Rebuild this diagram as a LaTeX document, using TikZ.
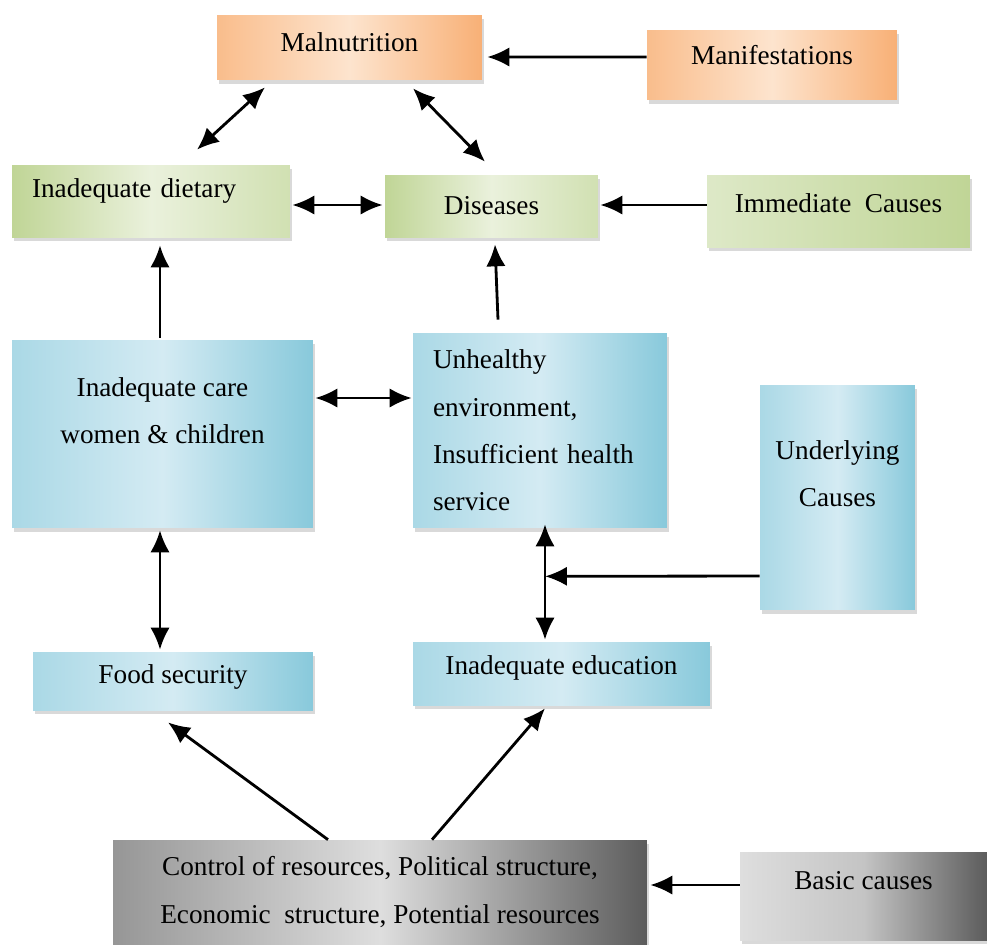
\documentclass[tikz,border=0pt]{standalone}
\usepackage{fontspec}
\setmainfont{Liberation Serif}
\usepackage{xcolor}
\usepackage{tikz}
\usetikzlibrary{arrows.meta, calc, shadows}

\definecolor{orangeD}{RGB}{248,176,118}
\definecolor{orangeL}{RGB}{253,228,206}
\definecolor{greenD}{RGB}{192,213,150}
\definecolor{greenL}{RGB}{234,241,220}
\definecolor{blueD}{RGB}{136,201,219}
\definecolor{blueL}{RGB}{212,235,243}
\definecolor{grayD}{RGB}{92,92,92}
\definecolor{grayM}{RGB}{150,150,150}
\definecolor{grayL}{RGB}{222,222,222}

\begin{document}
\begin{tikzpicture}[
    x=0.02cm, y=-0.02cm,
    every node/.style={font=\fontsize{15.5}{27}\selectfont, text=black},
    box/.style={rectangle, inner sep=0pt, align=center, drop shadow={shadow xshift=1pt, shadow yshift=-2.5pt, opacity=0.3}},
    orangebox/.style={box, left color=orangeD!75!orangeL, right color=orangeD, middle color=orangeL},
    greenbox/.style={box, left color=greenD, right color=greenD!60!greenL, middle color=greenL},
    bluebox/.style={box, left color=blueD!55!blueL, right color=blueD, middle color=blueL},
    graybox/.style={box, left color=grayM, right color=grayD, middle color=grayL},
    arrow/.style={-{Latex[length=12.5pt,width=11pt]}, line width=1.6pt, black},
    dblarrow/.style={{Latex[length=12.5pt,width=11pt]}-{Latex[length=12.5pt,width=11pt]}, line width=1.6pt, black}
]
    \useasboundingbox (0,0) rectangle (987,944);

    % Manifestations
    \node[orangebox, minimum width=5.3cm, minimum height=1.3cm, text depth=5.7pt] (mal) at (349.5,47.5) {Malnutrition};
    \node[orangebox, minimum width=5.0cm, minimum height=1.4cm, text depth=11.4pt] (manif) at (772,65) {Manifestations};

    % Immediate causes
    \node[greenbox, minimum width=5.56cm, minimum height=1.44cm, text width=4.76cm, inner xsep=0.4cm, align=left, text depth=15pt] (diet) at (151,201) {Inadequate dietary};
    \node[greenbox, minimum width=4.26cm, minimum height=1.24cm] (dis) at (491.5,206) {Diseases};
    \node[greenbox, left color=greenL!70!greenD, right color=greenD, minimum width=5.26cm, minimum height=1.44cm, text depth=9pt] (imm) at (838.5,211) {Immediate~~Causes};

    % Underlying causes
    \node[bluebox, minimum width=6.02cm, minimum height=3.76cm] (care) at (162.5,434) {Inadequate care\\women \& children\\\mbox{}};
    \node[bluebox, minimum width=5.08cm, minimum height=3.9cm, text width=4.28cm, inner xsep=0.4cm, align=left] (env) at (540,430.5) {Unhealthy\\environment,\\Insufficient health\\service};
    \node[bluebox, minimum width=3.1cm, minimum height=4.5cm] (und) at (837.5,497.5) {Underlying\\Causes\\\mbox{}};
    \node[bluebox, minimum width=5.6cm, minimum height=1.16cm, text depth=8pt] (food) at (173,681) {Food security};
    \node[bluebox, minimum width=5.94cm, minimum height=1.26cm, text depth=9.6pt] (edu) at (561.5,673.5) {Inadequate education};

    % Basic causes
    \node[graybox, minimum width=10.68cm, minimum height=2.08cm] (ctrl) at (380,892) {Control of resources, Political structure,\\Economic~ structure, Potential resources};
    \node[graybox, left color=grayL, right color=grayD, middle color=grayL!80!grayD, minimum width=4.94cm, minimum height=1.76cm, text depth=18pt] (basic) at (863.5,896) {Basic causes};

    \draw[arrow] ($(manif.west)+(0,-8)$) -- ($(mal.east)+(5,9.5)$);
    \draw[dblarrow] ($(diet.north)+(46,-15)$) -- ($(mal.south)+(-84.5,7)$);
    \draw[dblarrow] ($(mal.south)+(63.5,8)$) -- ($(dis.north)+(-6.5,-13)$);
    \draw[dblarrow] ($(diet.east)+(2,4)$) -- ($(dis.west)+(-2,-1)$);
    \draw[arrow] ($(imm.west)+(0,-6)$) -- ($(dis.east)+(2,-1)$);
    \draw[arrow] ($(care.north)+(-2.5,-2)$) -- ($(diet.south)+(9,8)$);
    \draw[arrow] ($(env.north)+(-42,-13)$) -- ($(dis.south)+(3.5,7)$);
    \draw[dblarrow] ($(care.east)+(2,-36)$) -- ($(env.west)+(-1,-32.5)$);
    \draw[dblarrow] ($(care.south)+(-2.5,2)$) -- ($(food.north)+(-13,-2)$);

    \coordinate (envlink) at ($(env.south)+(5,48)$);
    \draw[dblarrow] ($(env.south)+(5,-4)$) -- ($(edu.north)+(-16.5,-2)$);
    \draw[arrow] ($(und.west)+(0,78.5)$) -- (envlink);

    \draw[arrow] ($(ctrl.north)+(-52,0)$) -- ($(food.south)+(-5,12)$);
    \draw[arrow] ($(ctrl.north)+(52,0)$) -- ($(edu.south)+(-16.5,3)$);
    \draw[arrow] ($(basic.west)+(0,-11)$) -- ($(ctrl.east)+(3,-7)$);

\end{tikzpicture}
\end{document}
